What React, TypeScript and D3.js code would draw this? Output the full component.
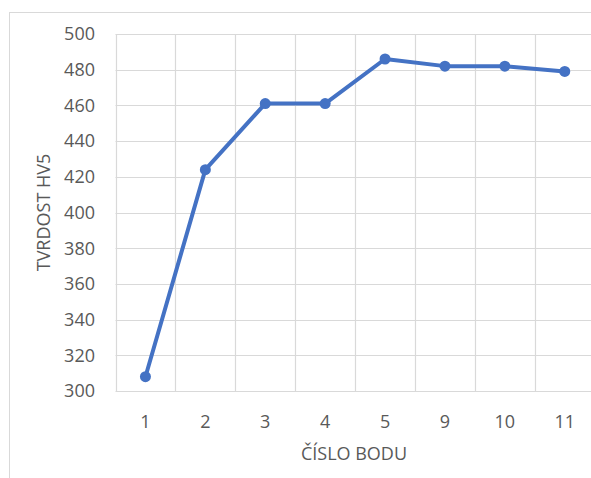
import { useEffect, useRef } from "react";
import * as d3 from "d3";

const categories = ["1", "2", "3", "4", "5", "9", "10", "11"];
const hardness = [308, 424, 461, 461, 486, 482, 482, 479];
const yTicks = [300, 320, 340, 360, 380, 400, 420, 440, 460, 480, 500];

const W = 591;
const H = 478;
const FONT = "'Open Sans', 'Liberation Sans', sans-serif";

export default function App() {
  const svgRef = useRef<SVGSVGElement>(null);

  useEffect(() => {
    if (!svgRef.current) return;
    const svg = d3.select(svgRef.current);
    svg.selectAll("*").remove();

    // plot area (runs slightly past the right edge, like the source)
    const left = 115.5, top = 34, bottom = 391;
    const band = 59.9;
    const right = left + band * categories.length;

    // outer chart border
    svg.append("rect")
      .attr("x", 9.5).attr("y", 12.5)
      .attr("width", W - 9).attr("height", H)
      .attr("fill", "#fff")
      .attr("stroke", "#d9d9d9")
      .attr("stroke-width", 1);

    const x = d3.scaleBand<string>().domain(categories).range([left, right]);
    const y = d3.scaleLinear().domain([300, 500]).range([bottom, top]);

    // horizontal gridlines
    svg.append("g").selectAll("line")
      .data(yTicks)
      .enter().append("line")
      .attr("x1", left).attr("x2", right)
      .attr("y1", d => Math.round(y(d)) + 0.5)
      .attr("y2", d => Math.round(y(d)) + 0.5)
      .attr("stroke", "#d9d9d9")
      .attr("stroke-width", 1.2);

    // vertical gridlines between categories
    const edges = categories.map(c => x(c) as number).concat([right]);
    svg.append("g").selectAll("line")
      .data(edges)
      .enter().append("line")
      .attr("x1", d => Math.round(d) + 0.5).attr("x2", d => Math.round(d) + 0.5)
      .attr("y1", top).attr("y2", bottom)
      .attr("stroke", "#d9d9d9")
      .attr("stroke-width", 1.2);

    // y tick labels
    svg.append("g").selectAll("text")
      .data(yTicks)
      .enter().append("text")
      .attr("x", 95)
      .attr("y", d => y(d))
      .attr("dy", "0.35em")
      .attr("text-anchor", "end")
      .attr("font-family", FONT)
      .attr("font-size", 18)
      .attr("fill", "#595959")
      .text(d => d);

    // x tick labels
    svg.append("g").selectAll("text")
      .data(categories)
      .enter().append("text")
      .attr("x", d => (x(d) as number) + x.bandwidth() / 2)
      .attr("y", 428)
      .attr("text-anchor", "middle")
      .attr("font-family", FONT)
      .attr("font-size", 18)
      .attr("fill", "#595959")
      .text(d => d);

    // axis titles
    svg.append("text")
      .attr("x", 354)
      .attr("y", 460)
      .attr("text-anchor", "middle")
      .attr("font-family", FONT)
      .attr("font-size", 18)
      .attr("fill", "#595959")
      .text("ČÍSLO BODU");

    svg.append("text")
      .attr("transform", `translate(50,${(top + bottom) / 2}) rotate(-90)`)
      .attr("text-anchor", "middle")
      .attr("font-family", FONT)
      .attr("font-size", 18)
      .attr("fill", "#595959")
      .text("TVRDOST HV5");

    // series
    const pts = categories.map((c, i) => ({ c, v: hardness[i] }));
    const line = d3.line<{ c: string; v: number }>()
      .x(d => (x(d.c) as number) + x.bandwidth() / 2)
      .y(d => y(d.v));

    svg.append("path")
      .datum(pts)
      .attr("fill", "none")
      .attr("stroke", "#4472C4")
      .attr("stroke-width", 4)
      .attr("stroke-linejoin", "round")
      .attr("d", line);

    svg.append("g").selectAll("circle")
      .data(pts)
      .enter().append("circle")
      .attr("cx", d => (x(d.c) as number) + x.bandwidth() / 2)
      .attr("cy", d => y(d.v))
      .attr("r", 5.5)
      .attr("fill", "#4472C4");
  }, []);

  return (
    <div style={{ position: "absolute", left: 0, top: 0 }}>
      <svg ref={svgRef} width={W} height={H} style={{ display: "block" }} />
    </div>
  );
}
